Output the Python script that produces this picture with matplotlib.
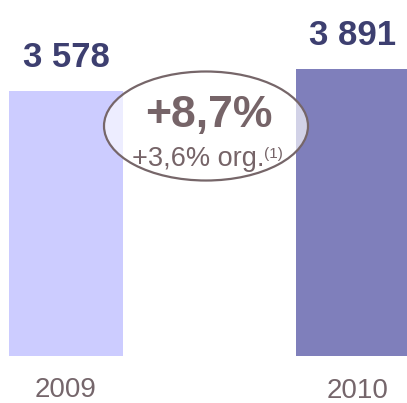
import matplotlib
matplotlib.use("Agg")
import matplotlib.pyplot as plt
from matplotlib.patches import Ellipse
import numpy as np

plt.rcParams['font.family'] = ['Liberation Sans', 'DejaVu Sans']

years = ["2009", "2010"]
values = np.array([3578, 3891])
value_labels = ["3 578", "3 891"]
growth_main = "+8,7%"
growth_sub = "+3,6% org."
growth_note = "(1)"

W, H = 407, 403
fig = plt.figure(figsize=(W / 100, H / 100), dpi=100)
bottom_px = 356
ax = fig.add_axes([0, (H - bottom_px) / H, 1, bottom_px / H])

base = -192
k = 22 / 313.0  # px per unit
top = 3891 + 69 / k
ax.set_ylim(base, top)
xscale = 286.5
x0 = 66
ax.set_xlim(-x0 / xscale, (W - x0) / xscale)
ax.axis('off')

xs = np.arange(len(years))
colors = ["#ccccff", "#7f7fbb"]
ax.bar(xs, values - base, bottom=base, width=114 / xscale, color=colors, zorder=1)

for x, v, lab in zip(xs, values, value_labels):
    ax.annotate(lab, (x, v), xytext=(0, 17.3), textcoords='offset points',
                ha='center', va='baseline', fontsize=25, fontweight='bold',
                color='#3d3f70', zorder=5)

year_off = [(0, -29.5), (3.5, -30.0)]
for x, y, off in zip(xs, years, year_off):
    ax.annotate(y, (x, base), xytext=off, textcoords='offset points',
                ha='center', va='baseline', fontsize=20, color='#75666b',
                annotation_clip=False)

# ellipse
ecx = (206 - x0) / xscale
ecy = top - 126 / k
ell = Ellipse((ecx, ecy), 204 / xscale, 109 / k, facecolor=(1, 1, 1, 0.65),
              edgecolor='#766669', linewidth=1.6, zorder=3)
ax.add_patch(ell)

fig.text(209 / W, 1 - 127 / H, growth_main, ha='center', va='baseline',
         fontsize=32, fontweight='bold', color='#766468', zorder=6)
fig.text(198 / W, 1 - 166 / H, growth_sub, ha='center', va='baseline',
         fontsize=19.5, color='#766468', zorder=6)
fig.text(264 / W, 1 - 158 / H, growth_note, ha='left', va='baseline',
         fontsize=11, color='#766468', zorder=6)

fig.savefig("out.png", dpi=100)
